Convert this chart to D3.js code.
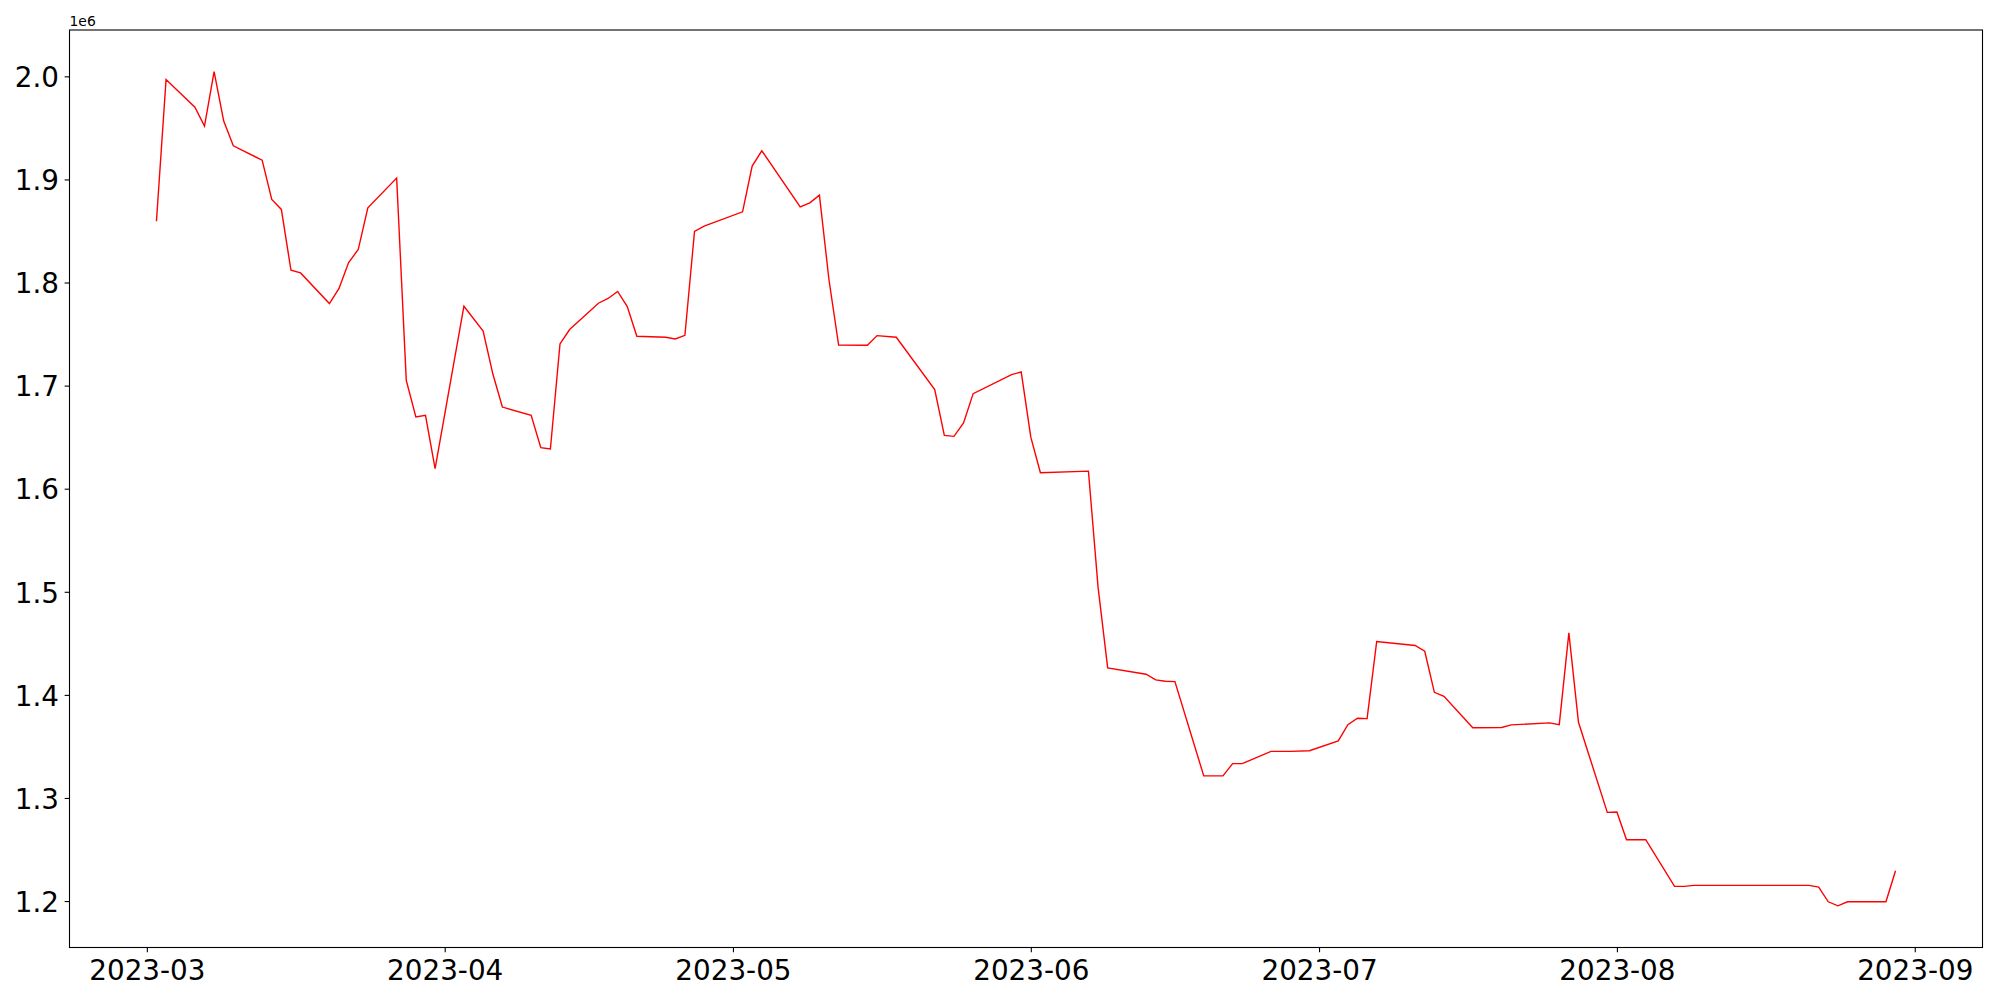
<!DOCTYPE html>
<html>
<head>
<meta charset="utf-8">
<script src="https://cdn.jsdelivr.net/npm/d3@7"></script>
<style>
	html, body { margin: 0; padding: 0; background: #fff; }
	svg { display: block; font-family: "DejaVu Sans", sans-serif; }
</style>
</head>
<body>
<div id="chart"></div>
<script>
//data (values in units, plotted with a 1e6 offset label)
const dates = [
	'2023-03-02','2023-03-03','2023-03-06','2023-03-07','2023-03-08','2023-03-09','2023-03-10',
	'2023-03-13','2023-03-14','2023-03-15','2023-03-16','2023-03-17',
	'2023-03-20','2023-03-21','2023-03-22','2023-03-23','2023-03-24',
	'2023-03-27','2023-03-28','2023-03-29','2023-03-30','2023-03-31',
	'2023-04-03','2023-04-05','2023-04-06','2023-04-07',
	'2023-04-10','2023-04-11','2023-04-12','2023-04-13','2023-04-14',
	'2023-04-17','2023-04-18','2023-04-19','2023-04-20','2023-04-21',
	'2023-04-24','2023-04-25','2023-04-26','2023-04-27','2023-04-28',
	'2023-05-02','2023-05-03','2023-05-04',
	'2023-05-08','2023-05-09','2023-05-10','2023-05-11','2023-05-12',
	'2023-05-15','2023-05-16','2023-05-18',
	'2023-05-22','2023-05-23','2023-05-24','2023-05-25','2023-05-26',
	'2023-05-30','2023-05-31','2023-06-01','2023-06-02',
	'2023-06-07','2023-06-08','2023-06-09',
	'2023-06-13','2023-06-14','2023-06-15','2023-06-16',
	'2023-06-19','2023-06-21','2023-06-22','2023-06-23',
	'2023-06-26','2023-06-28','2023-06-30',
	'2023-07-03','2023-07-04','2023-07-05','2023-07-06','2023-07-07',
	'2023-07-11','2023-07-12','2023-07-13','2023-07-14',
	'2023-07-17','2023-07-20','2023-07-21',
	'2023-07-25','2023-07-26','2023-07-27','2023-07-28',
	'2023-07-31','2023-08-01','2023-08-02','2023-08-04',
	'2023-08-07','2023-08-08','2023-08-09',
	'2023-08-21','2023-08-22','2023-08-23','2023-08-24','2023-08-25',
	'2023-08-29','2023-08-30'
];
const values = [
	1859500,1997000,1970000,1951700,2004500,1956600,1932600,
	1918700,1880600,1870900,1811900,1809300,
	1779600,1794200,1819400,1832000,1872400,
	1901300,1705100,1669500,1671200,1619400,
	1777000,1753000,1711700,1679200,
	1671200,1639800,1638500,1740400,1754400,
	1779900,1784500,1791300,1776700,1747900,
	1746900,1745300,1748800,1849500,1854700,
	1868600,1912900,1927800,
	1873400,1877300,1884800,1802200,1739400,
	1739100,1748500,1746900,
	1696100,1651700,1650800,1663700,1692200,
	1710700,1713200,1650000,1615500,
	1617000,1504500,1426200,
	1420000,1414600,1413200,1412900,
	1321400,1321400,1333300,1333300,
	1345200,1345200,1345800,
	1355300,1371100,1377300,1377000,1451800,
	1447900,1442300,1402500,1398600,
	1368100,1368400,1370900,
	1372800,1371200,1460200,1373400,
	1286000,1286400,1259500,1259500,
	1214200,1214200,1215200,
	1215200,1213600,1199300,1195400,1199300,
	1199300,1229400
];
const yTicks = [1200000,1300000,1400000,1500000,1600000,1700000,1800000,1900000,2000000];
const xTicks = ['2023-03-01','2023-04-01','2023-05-01','2023-06-01','2023-07-01','2023-08-01','2023-09-01'];
const offsetLabel = '1e6';

const W = 2000;
const H = 1000;
const margin = {t:30, r:17.5, b:52.5, l:69.5};
const innerWidth = W - margin.l - margin.r;
const innerHeight = H - margin.t - margin.b;

const parse = d3.timeParse('%Y-%m-%d');
const data = dates.map((d, i) => ({date: parse(d), value: values[i]}));

//matplotlib style 5% margins around the data
const xExt = d3.extent(data, d => +d.date);
const yExt = d3.extent(data, d => d.value);
const xPad = (xExt[1] - xExt[0]) * 0.05;
const yPad = (yExt[1] - yExt[0]) * 0.05;

const scaleX = d3.scaleTime()
	.domain([new Date(xExt[0] - xPad), new Date(xExt[1] + xPad)])
	.range([0, innerWidth]);
const scaleY = d3.scaleLinear()
	.domain([yExt[0] - yPad, yExt[1] + yPad])
	.range([innerHeight, 0]);

const lineGenerator = d3.line()
	.x(d => scaleX(d.date))
	.y(d => scaleY(d.value));

const axisX = d3.axisBottom(scaleX)
	.tickValues(xTicks.map(parse))
	.tickFormat(d3.timeFormat('%Y-%m'))
	.tickSizeInner(4.86)
	.tickSizeOuter(0);
const axisY = d3.axisLeft(scaleY)
	.tickValues(yTicks)
	.tickFormat(v => (v / 1e6).toFixed(1))
	.tickSizeInner(4.86)
	.tickSizeOuter(0);

const svg = d3.select('#chart').append('svg')
	.attr('width', W)
	.attr('height', H);

const plot = svg.append('g')
	.attr('transform', `translate(${margin.l}, ${margin.t})`);

plot.append('path')
	.datum(data)
	.attr('fill', 'none')
	.attr('stroke', '#ff0000')
	.attr('stroke-width', 1.4)
	.attr('stroke-linejoin', 'miter')
	.attr('d', lineGenerator);

const gx = plot.append('g')
	.attr('transform', `translate(0, ${innerHeight})`)
	.call(axisX);
gx.select('.domain').remove();
gx.selectAll('.tick line').attr('stroke', '#000').attr('stroke-width', 1.1);
gx.selectAll('.tick text')
	.attr('fill', '#000')
	.attr('font-size', '27.8px')
	.attr('font-family', '"DejaVu Sans", sans-serif')
	.attr('y', 32.7)
	.attr('dy', null);

const gy = plot.append('g').call(axisY);
gy.select('.domain').remove();
gy.selectAll('.tick line').attr('stroke', '#000').attr('stroke-width', 1.1);
gy.selectAll('.tick text')
	.attr('fill', '#000')
	.attr('font-size', '27.8px')
	.attr('font-family', '"DejaVu Sans", sans-serif')
	.attr('x', -10.5)
	.attr('dy', '0.37em');

//frame
plot.append('rect')
	.attr('width', innerWidth)
	.attr('height', innerHeight)
	.attr('fill', 'none')
	.attr('stroke', '#000')
	.attr('stroke-width', 1.1);

//offset text above the y axis
svg.append('text')
	.attr('x', margin.l)
	.attr('y', 26)
	.attr('font-size', '13.9px')
	.attr('fill', '#000')
	.text(offsetLabel);
</script>
</body>
</html>
